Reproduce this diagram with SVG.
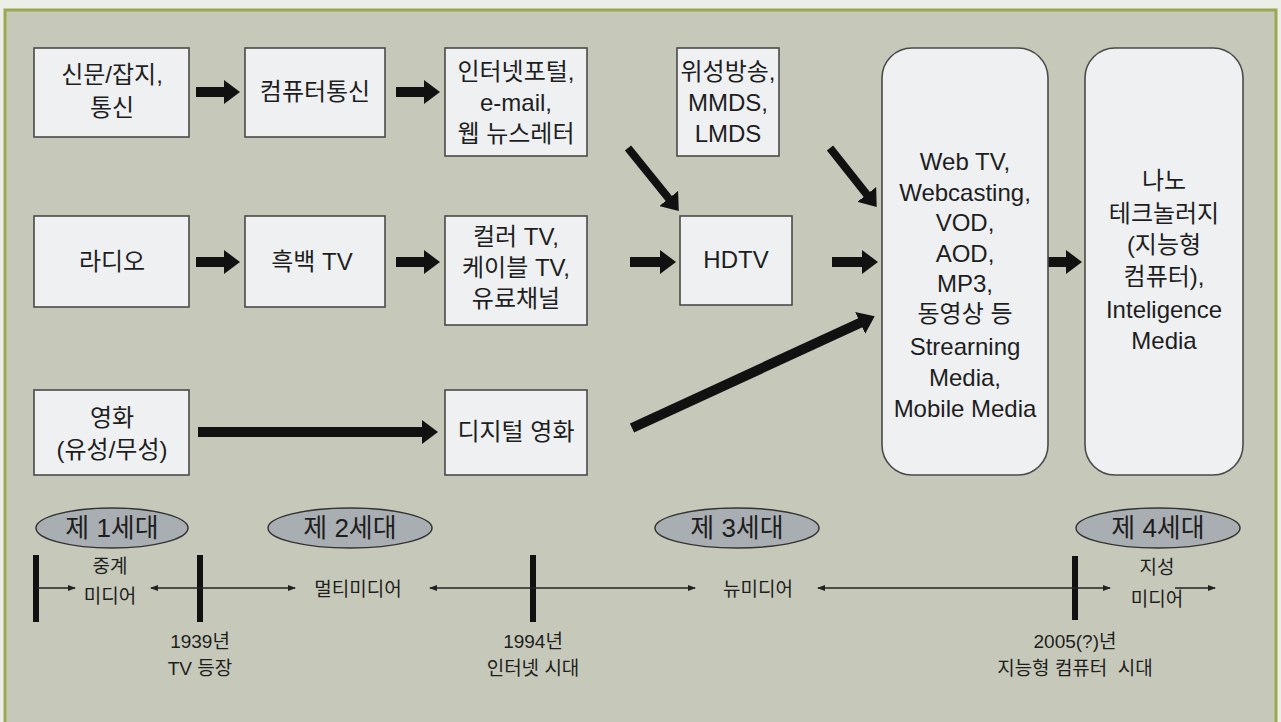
<svg xmlns="http://www.w3.org/2000/svg" width="1281" height="722" viewBox="0 0 1281 722">
<defs>
<style>
.bg{fill:#c6c9b9}
.box{fill:#eef0f2;stroke:#4a4a4a;stroke-width:1.6}
.t{font-family:"Liberation Sans","Noto Sans CJK KR",sans-serif;font-size:24px;fill:#1e1e1e;text-anchor:middle}
.s{font-family:"Liberation Sans","Noto Sans CJK KR",sans-serif;font-size:19px;fill:#1e1e1e;text-anchor:middle}
.g{font-family:"Liberation Sans","Noto Sans CJK KR",sans-serif;font-size:24px;fill:#1e1e1e;text-anchor:middle}
.e{font-family:"Liberation Sans","Noto Sans CJK KR",sans-serif;font-size:26px;fill:#1e1e1e;text-anchor:middle}
.thick{stroke:#111;stroke-width:10;fill:none}
.thin{stroke:#222;stroke-width:1.3;fill:none}
.bar{stroke:#111;stroke-width:6}
.ell{fill:#a9aeb2;stroke:#333;stroke-width:1.5}
</style>
<marker id="ah" markerUnits="userSpaceOnUse" markerWidth="16" markerHeight="24" refX="2" refY="12" orient="auto"><path d="M0,0 L16,12 L0,24 Z" fill="#111"/></marker>
<marker id="sh" markerUnits="userSpaceOnUse" markerWidth="8" markerHeight="6" refX="7" refY="3" orient="auto"><path d="M0,0 L8,3 L0,6 Z" fill="#222"/></marker>
<marker id="sht" markerUnits="userSpaceOnUse" markerWidth="8" markerHeight="6" refX="1" refY="3" orient="auto"><path d="M8,0 L0,3 L8,6 Z" fill="#222"/></marker>
</defs>
<rect x="0" y="0" width="1281" height="722" fill="#eceee8"/>
<rect x="5" y="10" width="1271" height="716" class="bg" stroke="#9aa84e" stroke-width="3"/>

<g id="connectors">
<line class="thick" x1="196" y1="92" x2="226" y2="92" marker-end="url(#ah)"/>
<line class="thick" x1="396" y1="92" x2="426" y2="92" marker-end="url(#ah)"/>
<line class="thick" x1="196" y1="262" x2="226" y2="262" marker-end="url(#ah)"/>
<line class="thick" x1="396" y1="262" x2="426" y2="262" marker-end="url(#ah)"/>
<line class="thick" x1="630" y1="262" x2="662" y2="262" marker-end="url(#ah)"/>
<line class="thick" x1="832" y1="262" x2="864" y2="262" marker-end="url(#ah)"/>
<line class="thick" x1="1046" y1="262" x2="1068" y2="262" marker-end="url(#ah)"/>
<line class="thick" x1="198" y1="432" x2="424" y2="432" marker-end="url(#ah)"/>
<line class="thick" x1="632" y1="428" x2="862" y2="322" marker-end="url(#ah)"/>
<line class="thick" style="stroke-width:8" x1="628" y1="148" x2="670" y2="200" marker-end="url(#ah)"/>
<line class="thick" style="stroke-width:8" x1="830" y1="148" x2="868" y2="196" marker-end="url(#ah)"/>

<line class="bar" x1="36" y1="555" x2="36" y2="622"/>
<line class="bar" x1="200" y1="555" x2="200" y2="622"/>
<line class="bar" x1="533" y1="555" x2="533" y2="622"/>
<line class="bar" x1="1075" y1="556" x2="1075" y2="620"/>
<line class="thin" x1="37" y1="588" x2="75" y2="588" marker-end="url(#sh)"/>
<line class="thin" x1="151" y1="588" x2="295" y2="588" marker-start="url(#sht)" marker-end="url(#sh)"/>
<line class="thin" x1="430" y1="588" x2="695" y2="588" marker-start="url(#sht)" marker-end="url(#sh)"/>
<line class="thin" x1="818" y1="588" x2="1110" y2="588" marker-start="url(#sht)" marker-end="url(#sh)"/>
<line class="thin" x1="1175" y1="588" x2="1215" y2="588" marker-end="url(#sh)"/>
</g>

<g id="n-newspaper"><rect class="box" x="34" y="48" width="155" height="89"/>
<text class="t" x="112" y="83">신문/잡지,</text><text class="t" x="112" y="116">통신</text></g>
<g id="n-pccomm"><rect class="box" x="245" y="48" width="140" height="89"/>
<text class="t" x="315" y="100">컴퓨터통신</text></g>
<g id="n-portal"><rect class="box" x="445" y="48" width="142" height="108"/>
<text class="t" x="516" y="80">인터넷포털,</text><text class="t" x="516" y="111">e-mail,</text><text class="t" x="516" y="142">웹 뉴스레터</text></g>
<g id="n-satellite"><rect class="box" x="677" y="48" width="102" height="108"/>
<text class="t" x="728" y="80">위성방송,</text><text class="t" x="728" y="111">MMDS,</text><text class="t" x="728" y="142">LMDS</text></g>
<g id="n-webtv"><rect class="box" x="882" y="48" width="166" height="427" rx="30"/>
<text class="g" x="965" y="170">Web TV,</text><text class="g" x="965" y="201">Webcasting,</text><text class="g" x="965" y="231">VOD,</text><text class="g" x="965" y="262">AOD,</text><text class="g" x="965" y="292">MP3,</text><text class="g" x="965" y="322">동영상 등</text><text class="g" x="965" y="355">Strearning</text><text class="g" x="965" y="386">Media,</text><text class="g" x="965" y="417">Mobile Media</text></g>
<g id="n-nano"><rect class="box" x="1085" y="48" width="158" height="427" rx="30"/>
<text class="g" x="1164" y="189">나노</text><text class="g" x="1164" y="222">테크놀러지</text><text class="g" x="1164" y="253">(지능형</text><text class="g" x="1164" y="285">컴퓨터),</text><text class="g" x="1164" y="318">Inteligence</text><text class="g" x="1164" y="349">Media</text></g>
<g id="n-radio"><rect class="box" x="34" y="216" width="155" height="91"/>
<text class="t" x="112" y="270">라디오</text></g>
<g id="n-bwtv"><rect class="box" x="245" y="216" width="140" height="91"/>
<text class="t" x="312" y="270">흑백 TV</text></g>
<g id="n-colortv"><rect class="box" x="445" y="216" width="142" height="109"/>
<text class="t" x="516" y="245">컬러 TV,</text><text class="t" x="516" y="276">케이블 TV,</text><text class="t" x="516" y="307">유료채널</text></g>
<g id="n-hdtv"><rect class="box" x="680" y="216" width="112" height="89"/>
<text class="t" x="736" y="268">HDTV</text></g>
<g id="n-movie"><rect class="box" x="34" y="390" width="155" height="85"/>
<text class="t" x="112" y="426">영화</text><text class="t" x="112" y="458">(유성/무성)</text></g>
<g id="n-digitalmovie"><rect class="box" x="445" y="390" width="142" height="85"/>
<text class="t" x="516" y="440">디지털 영화</text></g>

<g id="gen1"><ellipse class="ell" cx="112" cy="528" rx="76" ry="20"/><text class="e" x="112" y="537">제 1세대</text></g>
<g id="gen2"><ellipse class="ell" cx="350" cy="528" rx="82" ry="20"/><text class="e" x="350" y="537">제 2세대</text></g>
<g id="gen3"><ellipse class="ell" cx="737" cy="528" rx="82" ry="20"/><text class="e" x="737" y="537">제 3세대</text></g>
<g id="gen4"><ellipse class="ell" cx="1158" cy="528" rx="82" ry="20"/><text class="e" x="1158" y="537">제 4세대</text></g>

<g id="timeline-labels">
<text class="s" x="110" y="573">중계</text><text class="s" x="110" y="603">미디어</text>
<text class="s" x="358" y="596">멀티미디어</text>
<text class="s" x="758" y="596">뉴미디어</text>
<text class="s" x="1157" y="574">지성</text><text class="s" x="1157" y="606">미디어</text>
<text class="s" x="200" y="648">1939년</text><text class="s" x="200" y="675">TV 등장</text>
<text class="s" x="533" y="648">1994년</text><text class="s" x="533" y="675">인터넷 시대</text>
<text class="s" x="1075" y="648">2005(?)년</text><text class="s" x="1075" y="675" xml:space="preserve">지능형 컴퓨터  시대</text>
</g>
</svg>
